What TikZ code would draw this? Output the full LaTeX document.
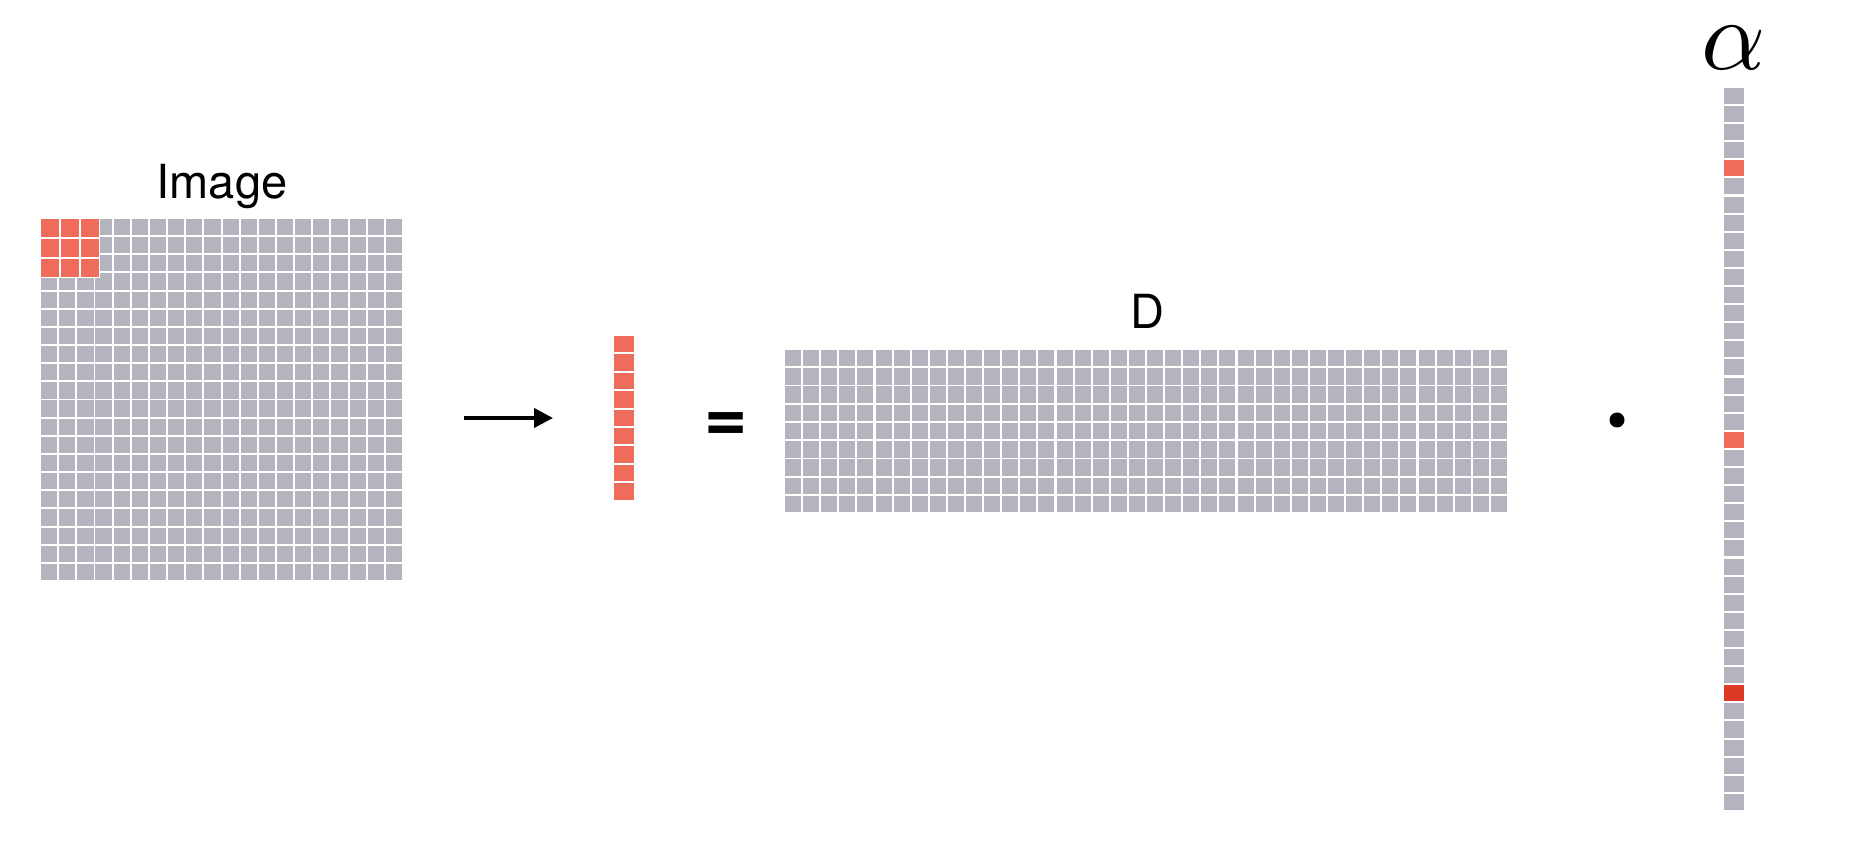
\documentclass[tikz,border=0pt]{standalone}
\usepackage{fontspec}
\setmainfont{TeX Gyre Heros}
\usepackage{graphicx}
\usetikzlibrary{arrows.meta}

\definecolor{cellgray}{RGB}{180,180,191}
\definecolor{patchred}{RGB}{238,108,89}
\definecolor{hotred}{RGB}{219,58,38}

\tikzset{
  cell/.style={fill=cellgray},
  redcell/.style={fill=patchred},
  hotcell/.style={fill=hotred},
  captext/.style={inner sep=0pt,anchor=base,font=\fontsize{23.5}{28}\selectfont}
}

\begin{document}
\begin{tikzpicture}[x=0.5pt,y=-0.5pt]
    \useasboundingbox (0,0) rectangle (1852,854);
    % image with its patch
    \foreach \i in {0,...,19}
        \foreach \j in {0,...,19}
            \fill[cell] ({41+18.15*\i},{219+18.15*\j}) rectangle ++(16.2,16.2);
    \fill[white] (40,218) rectangle (100,278);
    \foreach \i in {0,1,2}
        \foreach \j in {0,1,2}
            \fill[redcell] ({41+20*\i},{219+20*\j}) rectangle ++(18,18);
    \node at (222,199) [captext] (image) {Image};

    \coordinate (from) at (464,418);
    \coordinate (to) at (553,418);
    \draw[line width=2pt,-{Triangle[length=9.5pt,width=9.5pt]}] (from) -- (to);

    % patch as a column
    \foreach \j in {0,...,8}
        \fill[redcell] (614,{336+18.4*\j}) rectangle ++(20,16.5);
    \node at (726,427.5) [inner sep=0pt,font=\bfseries\fontsize{37}{40}\selectfont] (eq) {=};

    % dictionary
    \foreach \i in {0,...,39}
        \foreach \j in {0,...,8}
            \fill[cell] ({785+18.1*\i},{350+18.25*\j}) rectangle ++(16,16.3);
    \node at (1147,329) [captext] (dict) {D};

    \node at (1617,420) [circle,fill=black,inner sep=0pt,minimum size=7.5pt] (dot) {};

    % sparse code
    \foreach \j in {0,...,39}
        \fill[cell] (1724,{88+18.1*\j}) rectangle ++(20,16);
    \foreach \j/\s in {4/redcell,19/redcell,33/hotcell}
        \fill[\s] (1724,{88+18.1*\j}) rectangle ++(20,16);
    \node at (1734,48) [inner sep=0pt] (alpha) {\scalebox{5}{$\alpha$}};
\end{tikzpicture}
\end{document}
